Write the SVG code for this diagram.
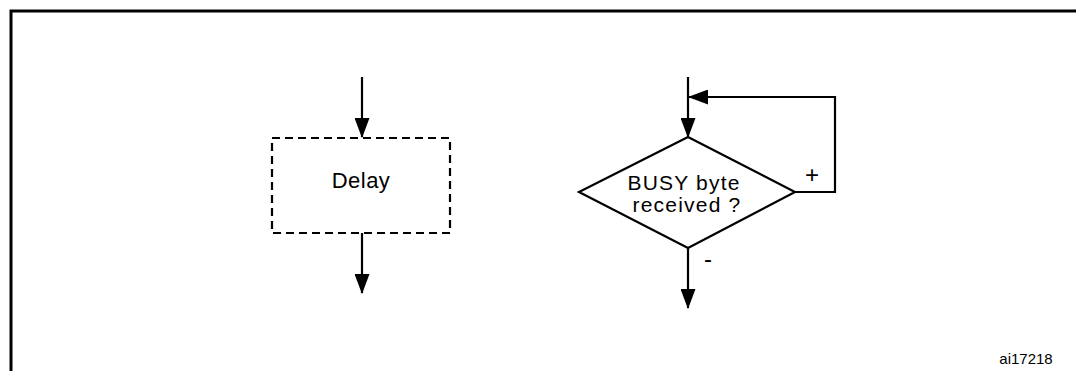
<svg xmlns="http://www.w3.org/2000/svg" width="1076" height="371" viewBox="0 0 1076 371">
<defs>
<marker id="ah" markerWidth="20" markerHeight="15" refX="19" refY="7.5" viewBox="0 0 20 15" markerUnits="userSpaceOnUse" orient="auto">
<path d="M0,0 L20,7.5 L0,15 Z" fill="#000"/>
</marker>
<style>
.ln{fill:none;stroke:#000;stroke-width:2.2}
.t{font-family:"Liberation Sans",Arial,sans-serif;fill:#000;font-size:21px;letter-spacing:1.2px}
</style>
</defs>
<rect width="1076" height="371" fill="#fff"/>
<path d="M11,371 V11 H1076" fill="none" stroke="#000" stroke-width="3"/>
<g id="connectors">
<path class="ln" d="M362,77 V137" marker-end="url(#ah)"/>
<path class="ln" d="M362,233 V293" marker-end="url(#ah)"/>
<path class="ln" d="M688,77 V137" marker-end="url(#ah)"/>
<path class="ln" d="M795,192 H835 V97 H689" marker-end="url(#ah)"/>
<path class="ln" d="M688,248 V308" marker-end="url(#ah)"/>
<text class="t" x="812" y="183" text-anchor="middle" style="font-size:24px;letter-spacing:0">+</text>
<text class="t" x="708" y="267" text-anchor="middle" style="font-size:24px;letter-spacing:0">-</text>
</g>
<g id="delay">
<rect x="272" y="138" width="178" height="95" fill="none" stroke="#000" stroke-width="2.2" stroke-dasharray="8,5"/>
<text class="t" x="361" y="188" text-anchor="middle" style="font-size:22px;letter-spacing:0.5px">Delay</text>
</g>
<g id="busy">
<path class="ln" d="M688,137 L795,192 L688,248 L579,192 Z"/>
<text class="t" x="684" y="190" text-anchor="middle">BUSY byte</text>
<text class="t" x="687" y="212" text-anchor="middle">received ?</text>
</g>
<text class="t" x="1026" y="364" text-anchor="middle" style="font-size:15px;letter-spacing:0">ai17218</text>
</svg>
